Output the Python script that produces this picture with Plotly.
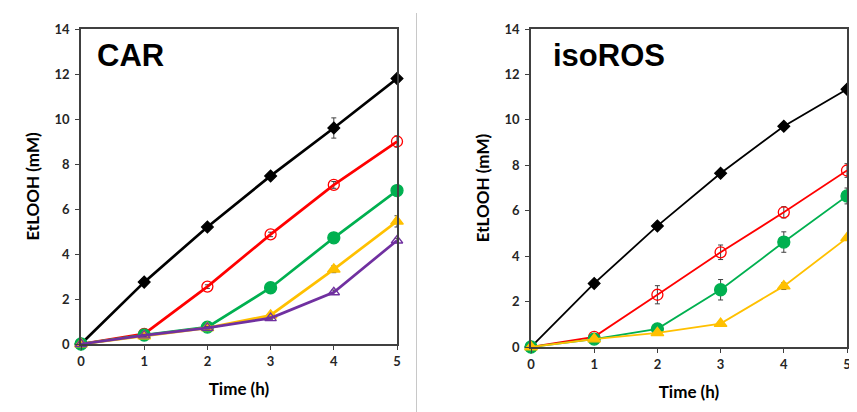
import plotly.graph_objects as go

time_h = [0, 1, 2, 3, 4, 5]

# CAR panel
car_black = [0, 2.75, 5.2, 7.47, 9.6, 11.8]
car_black_err = [0, 0.08, 0.1, 0.12, 0.45, 0.1]
car_red = [0, 0.45, 2.55, 4.87, 7.07, 9.0]
car_red_err = [0, 0.05, 0.08, 0.1, 0.15, 0.25]
car_green = [0, 0.4, 0.75, 2.5, 4.72, 6.82]
car_green_err = [0, 0.05, 0.05, 0.08, 0.1, 0.1]
car_yellow = [0, 0.35, 0.72, 1.28, 3.32, 5.45]
car_yellow_err = [0, 0.05, 0.05, 0.08, 0.15, 0.25]
car_purple = [0, 0.38, 0.72, 1.15, 2.3, 4.6]
car_purple_err = [0, 0.05, 0.05, 0.05, 0.1, 0.1]

# isoROS panel
iso_black = [0, 2.8, 5.33, 7.65, 9.72, 11.35]
iso_black_err = [0, 0.08, 0.1, 0.1, 0.1, 0.1]
iso_red = [0, 0.45, 2.3, 4.17, 5.93, 7.77]
iso_red_err = [0, 0.05, 0.4, 0.32, 0.25, 0.3]
iso_green = [0, 0.35, 0.8, 2.52, 4.62, 6.65]
iso_green_err = [0, 0.05, 0.1, 0.45, 0.45, 0.35]
iso_yellow = [0, 0.35, 0.62, 1.03, 2.68, 4.8]
iso_yellow_err = [0, 0.05, 0.05, 0.05, 0.15, 0.1]

BLACK, RED, GREEN, YELLOW, PURPLE = "#000000", "#FF0000", "#00B050", "#FFC000", "#7030A0"
ERRC = "#404040"

fig = go.Figure()

def add(y, err, color, symbol, size, lw, xa, ya, open_=False):
    fig.add_trace(go.Scatter(
        x=time_h, y=y, mode="lines+markers", xaxis=xa, yaxis=ya,
        line=dict(color=color, width=lw),
        marker=dict(symbol=symbol, size=size,
                    color="white" if open_ else color,
                    line=dict(color=color, width=1.3)),
        error_y=dict(type="data", array=err, color=ERRC, thickness=1, width=2.5),
        cliponaxis=False, showlegend=False))

add(car_black, car_black_err, BLACK, "diamond", 9, 2.7, "x", "y")
add(car_red, car_red_err, RED, "circle-open", 11, 2.7, "x", "y")
add(car_green, car_green_err, GREEN, "circle", 12, 2.7, "x", "y")
add(car_yellow, car_yellow_err, YELLOW, "triangle-up", 11, 2.7, "x", "y")
add(car_purple, car_purple_err, PURPLE, "triangle-up-open", 10, 2.7, "x", "y")

add(iso_black, iso_black_err, BLACK, "diamond", 9, 1.8, "x2", "y2")
add(iso_red, iso_red_err, RED, "circle-open", 11, 1.8, "x2", "y2")
add(iso_green, iso_green_err, GREEN, "circle", 12, 1.8, "x2", "y2")
add(iso_yellow, iso_yellow_err, YELLOW, "triangle-up", 11, 1.8, "x2", "y2")

# page body has an 8px margin: figure is sized/positioned to compensate
OFF = 8
W, H = 857 - OFF, 412 - OFF

def PX(px):
    return (px - OFF) / W

def PY(py):
    return (H - (py - OFF)) / H

tickfont = dict(family="Lato", size=13, color="#262626", weight="bold")
titlefont = dict(family="Lato", size=17, color="#000000", weight="bold")

def xax(dom):
    return dict(domain=dom, range=[0, 5], dtick=1, tick0=0, showline=True, mirror=True,
                linecolor="#404040", linewidth=1.5, ticks="outside", ticklen=4,
                tickcolor="#404040", tickwidth=1.2, showgrid=False, zeroline=False,
                automargin=False, ticklabelstandoff=1,
                tickfont=tickfont, title=dict(text="Time (h)", font=titlefont, standoff=15))

def yax(dom, anchor):
    return dict(domain=dom, anchor=anchor, range=[0, 14], dtick=2, tick0=0, showline=True, mirror=True,
                linecolor="#404040", linewidth=1.5, ticks="outside", ticklen=4,
                tickcolor="#404040", tickwidth=1.2, showgrid=False, zeroline=False,
                automargin=False, ticklabelstandoff=3,
                tickfont=tickfont, title=dict(text="EtLOOH (mM)", font=titlefont, standoff=11))

fig.update_layout(
    width=W, height=H, margin=dict(l=0, r=0, t=0, b=0, pad=0, autoexpand=False),
    paper_bgcolor="white", plot_bgcolor="white",
    xaxis=dict(xax([PX(81), PX(397)]), anchor="y"),
    yaxis=yax([PY(344), PY(29)], "x"),
    xaxis2=dict(xax([PX(531), PX(847)]), anchor="y2"),
    yaxis2=yax([PY(347), PY(29)], "x2"),
    annotations=[
        dict(text="CAR", x=PX(95), y=PY(55), xref="paper", yref="paper",
             xanchor="left", yanchor="middle", showarrow=False,
             font=dict(family="Liberation Sans", size=31, color="black", weight="bold")),
        dict(text="isoROS", x=PX(551), y=PY(55), xref="paper", yref="paper",
             xanchor="left", yanchor="middle", showarrow=False,
             font=dict(family="Liberation Sans", size=31, color="black", weight="bold")),
    ],
    shapes=[
        dict(type="line", xref="paper", yref="paper", x0=PX(416.5), x1=PX(416.5),
             y0=0, y1=PY(13), line=dict(color="#C8C8C8", width=1)),
    ],
)

fig.write_html("out.html")
